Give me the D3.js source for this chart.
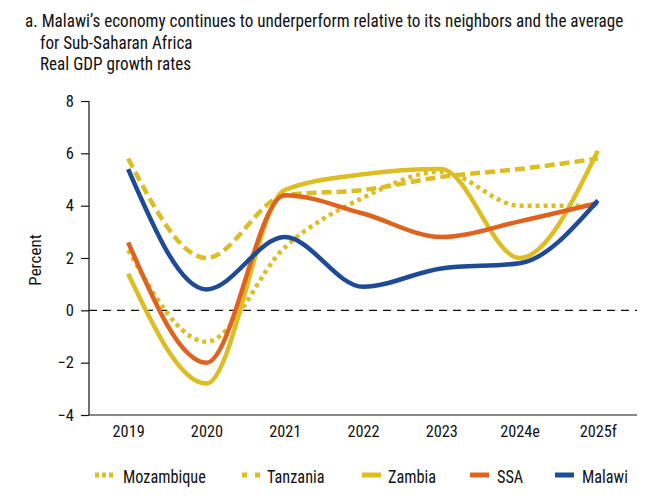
<!DOCTYPE html>
<html><head><meta charset="utf-8">
<script src="https://cdn.jsdelivr.net/npm/d3@7"></script>
<style>
body{margin:0;background:#fff;}
svg text{font-family:"Roboto Condensed","Liberation Sans Narrow",sans-serif;fill:#111;}
</style></head>
<body><svg id="c" width="651" height="501"></svg>
<script>
const years = ["2019","2020","2021","2022","2023","2024e","2025f"];
const mozambique = [2.3, -1.2, 2.4, 4.3, 5.3, 4.0, 4.0];
const tanzania   = [5.8, 2.0, 4.4, 4.6, 5.1, 5.4, 5.8];
const zambia     = [1.4, -2.8, 4.6, 5.2, 5.4, 2.0, 6.1];
const ssa        = [2.6, -2.0, 4.4, 3.7, 2.8, 3.4, 4.1];
const malawi     = [5.4, 0.8, 2.8, 0.9, 1.6, 1.8, 4.2];
const yTicks = [-4,-2,0,2,4,6,8];
const seriesNames = ["Mozambique","Tanzania","Zambia","SSA","Malawi"];
const seriesValues = [mozambique, tanzania, zambia, ssa, malawi];
const titleLines = ["a. Malawi\u2019s economy continues to underperform relative to its neighbors and the average",
                    "for Sub-Saharan Africa","Real GDP growth rates"];

const seriesColors = ["#dcbd24","#dcbd24","#dcbd24","#df631e","#1f4a96"];
const seriesDash = ["4,4","10,5",null,null,null];
const legendDash = ["4,3","5,8",null,null,null];

const svg = d3.select("#c");
const x = d3.scalePoint().domain(years).range([89,637]).padding(0.5);
const y = d3.scaleLinear().domain([-4,8]).range([415,101]);

// title
const titlePos = [[25,27],[40,49],[40,70]];
titleLines.forEach((s,i)=>{
  const sx = 0.98;
  svg.append("text").attr("x",titlePos[i][0]/sx).attr("y",titlePos[i][1])
    .attr("font-size",17.5).attr("transform",`scale(${sx},1)`).text(s);
});

// axes
const yAxis = svg.append("g").attr("transform","translate(89,0)")
  .call(d3.axisLeft(y).tickValues(yTicks).tickSize(8).tickPadding(7)
    .tickFormat(d=>d<0?"\u2212"+Math.abs(d):d));
yAxis.select(".domain").attr("stroke","#111").attr("stroke-width",1.2).attr("d","M0,101V415");
yAxis.selectAll(".tick line").attr("stroke","#111").attr("stroke-width",1.2);
yAxis.selectAll("text").attr("font-size",16.5).attr("fill","#111");

const xAxis = svg.append("g").attr("transform","translate(0,415)")
  .call(d3.axisBottom(x).tickSize(0).tickPadding(10));
xAxis.select(".domain").attr("stroke","#111").attr("stroke-width",1.2).attr("d","M89,0H637");
xAxis.selectAll("text").attr("font-size",16.3).attr("fill","#111");

svg.append("text").attr("transform","translate(41,260) rotate(-90)").attr("text-anchor","middle")
  .attr("font-size",17).text("Percent");

// zero line
svg.append("line").attr("x1",89).attr("x2",637).attr("y1",y(0)).attr("y2",y(0))
  .attr("stroke","#111").attr("stroke-width",1.2).attr("stroke-dasharray","8,6");

const line = d3.line().x((d,i)=>x(years[i])).y(d=>y(d)).curve(d3.curveMonotoneX);
seriesValues.forEach((vals,k)=>{
  svg.append("path").attr("d",line(vals)).attr("fill","none")
    .attr("stroke",seriesColors[k]).attr("stroke-width",4.5)
    .attr("stroke-dasharray",seriesDash[k]);
});

// legend
const legX = [95,242,362,470,555];
const legTextX = [123,267,388,497,582];
seriesNames.forEach((n,k)=>{
  svg.append("line").attr("x1",legX[k]).attr("x2",legX[k]+19).attr("y1",475).attr("y2",475)
    .attr("stroke",seriesColors[k]).attr("stroke-width",5)
    .attr("stroke-dasharray",legendDash[k]);
  const sx = 0.93;
  svg.append("text").attr("x",legTextX[k]/sx).attr("y",483).attr("font-size",17.5)
    .attr("transform",`scale(${sx},1)`).text(n);
});
</script></body></html>
